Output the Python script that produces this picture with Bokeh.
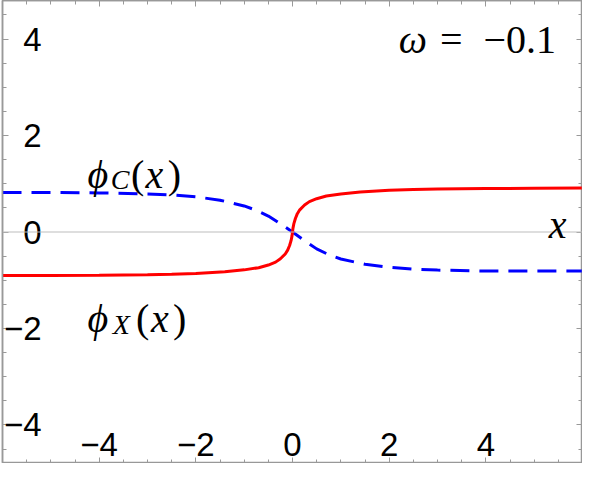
from bokeh.plotting import figure
from bokeh.models import FixedTicker, LinearAxis, Range1d, Span, Label
from bokeh.embed import file_html
from bokeh.resources import INLINE

# ---- data ----
x_c = [-6, -5, -4, -3, -2.5, -2, -1.5, -1, -0.75, -0.5, -0.25, 0, 0.25, 0.5, 0.75, 1, 1.5, 2, 2.5, 3, 4, 5, 6]
phi_c = [0.82, 0.82, 0.81, 0.79, 0.77, 0.73, 0.66, 0.54, 0.45, 0.33, 0.17, 0.0, -0.18, -0.35, -0.47, -0.56, -0.67, -0.73, -0.77, -0.79, -0.81, -0.81, -0.81]

x_x = [-6, -5, -4, -3, -2.5, -2, -1.4, -1.0, -0.7, -0.5, -0.35, -0.25, -0.15, -0.1, -0.06, -0.03, -0.01, 0,
       0.01, 0.03, 0.06, 0.1, 0.15, 0.25, 0.35, 0.5, 0.7, 1.0, 1.4, 2, 2.5, 3, 4, 5, 6]
phi_x = [-0.90, -0.90, -0.895, -0.885, -0.875, -0.86, -0.825, -0.785, -0.74, -0.685, -0.625, -0.555, -0.455, -0.375, -0.28, -0.18, -0.08, 0.0,
         0.08, 0.18, 0.28, 0.38, 0.46, 0.56, 0.63, 0.69, 0.745, 0.79, 0.83, 0.865, 0.88, 0.89, 0.90, 0.905, 0.91]

x_ticks = [-4, -2, 0, 2, 4]
y_ticks = [-4, -2, 0, 2, 4]
x_tick_labels = ["\u22124", "\u22122", "0", "2", "4"]
y_tick_labels = ["\u22124", "\u22122", "0", "2", "4"]
x_minor = [i * 0.5 for i in range(-12, 13)]
y_minor = [i * 0.5 for i in range(-10, 11)]

X_RANGE = (-6, 6)
Y_RANGE = (-4.8, 4.8)
omega_text = "\u22120.1"

FRAME = "#999999"
SERIF = "Liberation Serif"
SANS = "Liberation Sans"

p = figure(width=582, height=463, x_range=Range1d(*X_RANGE), y_range=Range1d(*Y_RANGE),
           output_backend="svg", toolbar_location=None, min_border=0,
           background_fill_color="white", border_fill_color="white")
p.grid.visible = False
p.outline_line_color = FRAME
p.outline_line_width = 1.5

def style_axis(ax, major, minor, labels=None, standoff=0):
    ax.ticker = FixedTicker(ticks=major, minor_ticks=minor)
    ax.major_tick_in = 6
    ax.major_tick_out = 0
    ax.minor_tick_in = 4
    ax.minor_tick_out = 0
    if labels is None:
        ax.major_label_text_font_size = "1px"
        ax.major_label_text_color = None
        ax.major_label_standoff = 0
    else:
        ax.major_label_overrides = {t: s for t, s in zip(major, labels)}
        ax.major_label_text_font = SANS
        ax.major_label_text_font_size = "33px"
        ax.major_label_text_color = "black"
        ax.major_label_standoff = standoff
    ax.axis_line_color = FRAME
    ax.axis_line_width = 1.5
    ax.major_tick_line_color = FRAME
    ax.minor_tick_line_color = FRAME
    ax.major_tick_line_width = 1
    ax.minor_tick_line_width = 1

style_axis(p.xaxis[0], x_ticks, x_minor, x_tick_labels, -31)
style_axis(p.yaxis[0], y_ticks, y_minor, y_tick_labels, -39)
top = LinearAxis()
right = LinearAxis()
style_axis(top, x_ticks, x_minor)
style_axis(right, y_ticks, y_minor)
p.add_layout(top, "above")
p.add_layout(right, "right")

p.add_layout(Span(location=0, dimension="width", line_color="#bdbdbd", line_width=1))

p.line(x_c, phi_c, line_color="#0000ff", line_width=3, line_dash="19 10")
p.line(x_x, phi_x, line_color="#ff0000", line_width=3)

def lab(txt, x, y, size=40, style="italic"):
    p.add_layout(Label(x=x, y=y, text=txt, text_font=SERIF, text_font_size=f"{size}px",
                       text_font_style=style, text_baseline="alphabetic", text_align="left",
                       text_color="black"))

# omega label
lab("\u03c9", 2.20, 3.99)
lab("=", 3.05, 3.99, style="normal")
lab(omega_text, 3.95, 3.99, style="normal")
# x label
lab("x", 5.30, 0.15)
# phi_C(x)
lab("\u03d5", -4.24, 1.20)
lab("C", -3.76, 1.08, size=28)
lab("(", -3.34, 1.20, style="normal")
lab("x", -3.04, 1.20)
lab(")", -2.58, 1.20, style="normal")
# phi_X(x)
lab("\u03d5", -4.24, -1.80)
lab("X", -3.72, -1.92, size=28)
lab("(", -3.24, -1.80, style="normal")
lab("x", -2.93, -1.80)
lab(")", -2.47, -1.80, style="normal")

open("out.html", "w").write(file_html(p, INLINE))
